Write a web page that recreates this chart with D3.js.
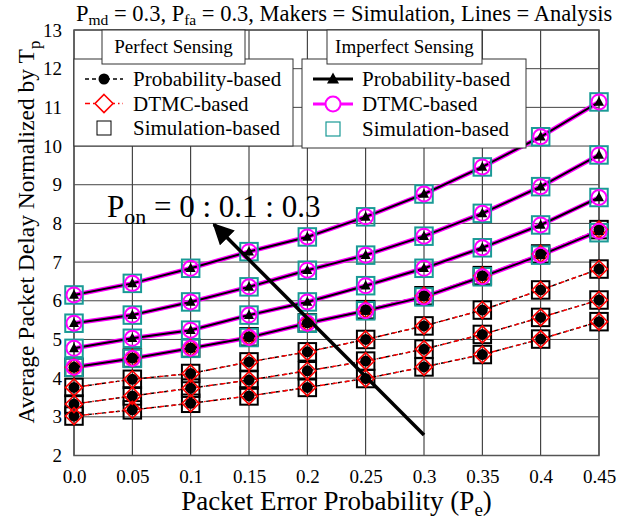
<!DOCTYPE html>
<html>
<head>
<meta charset="utf-8">
<script src="https://cdn.jsdelivr.net/npm/d3@7"></script>
<style>
  body { margin: 0; background: #fff; }
  text { font-family: "Liberation Serif", "DejaVu Serif", serif; fill: #000; }
</style>
</head>
<body>
<div id="chart"></div>
<script>
// packet error probability (x axis)
var pe = [0, 0.05, 0.1, 0.15, 0.2, 0.25, 0.3, 0.35, 0.4, 0.45];
var xTickLabels = ["0.0", "0.05", "0.1", "0.15", "0.2", "0.25", "0.3", "0.35", "0.4", "0.45"];
var yTicks = [2, 3, 4, 5, 6, 7, 8, 9, 10, 11, 12, 13];

// perfect sensing, Pon = 0, 0.1, 0.2, 0.3
var perfectProb = [
  [3.02, 3.18, 3.35, 3.54, 3.76, 3.99, 4.29, 4.61, 5.01, 5.46],
  [3.33, 3.54, 3.74, 3.95, 4.19, 4.44, 4.75, 5.13, 5.57, 6.02],
  [3.76, 3.97, 4.12, 4.42, 4.68, 5.00, 5.35, 5.76, 6.28, 6.82],
  [4.28, 4.52, 4.78, 5.07, 5.43, 5.77, 6.13, 6.65, 7.21, 7.84]
];
var perfectDtmc = [
  [3.02, 3.18, 3.35, 3.54, 3.76, 3.99, 4.29, 4.61, 5.01, 5.46],
  [3.33, 3.54, 3.74, 3.95, 4.19, 4.44, 4.75, 5.13, 5.57, 6.02],
  [3.76, 3.97, 4.12, 4.42, 4.68, 5.00, 5.35, 5.76, 6.28, 6.82],
  [4.28, 4.52, 4.78, 5.07, 5.43, 5.77, 6.13, 6.65, 7.21, 7.84]
];
var perfectSim = [
  [3.02, 3.18, 3.35, 3.54, 3.76, 3.99, 4.29, 4.61, 5.01, 5.46],
  [3.33, 3.54, 3.74, 3.95, 4.19, 4.44, 4.75, 5.13, 5.57, 6.02],
  [3.76, 3.97, 4.12, 4.42, 4.68, 5.00, 5.35, 5.76, 6.28, 6.82],
  [4.28, 4.52, 4.78, 5.07, 5.43, 5.77, 6.13, 6.65, 7.21, 7.84]
];

// imperfect sensing, Pon = 0, 0.1, 0.2, 0.3
var imperfectProb = [
  [4.28, 4.51, 4.77, 5.05, 5.42, 5.74, 6.10, 6.62, 7.18, 7.80],
  [4.77, 5.03, 5.24, 5.63, 5.97, 6.39, 6.84, 7.37, 7.96, 8.67],
  [5.42, 5.63, 5.97, 6.36, 6.79, 7.18, 7.67, 8.26, 8.95, 9.77],
  [6.15, 6.45, 6.84, 7.27, 7.65, 8.17, 8.76, 9.46, 10.24, 11.14]
];
var imperfectDtmc = [
  [4.28, 4.51, 4.77, 5.05, 5.42, 5.74, 6.10, 6.62, 7.18, 7.80],
  [4.77, 5.03, 5.24, 5.63, 5.97, 6.39, 6.84, 7.37, 7.96, 8.67],
  [5.42, 5.63, 5.97, 6.36, 6.79, 7.18, 7.67, 8.26, 8.95, 9.77],
  [6.15, 6.45, 6.84, 7.27, 7.65, 8.17, 8.76, 9.46, 10.24, 11.14]
];
var imperfectSim = [
  [4.28, 4.51, 4.77, 5.05, 5.42, 5.74, 6.10, 6.62, 7.18, 7.76],
  [4.77, 5.03, 5.24, 5.63, 5.97, 6.39, 6.84, 7.37, 7.96, 8.67],
  [5.42, 5.63, 5.97, 6.36, 6.79, 7.18, 7.67, 8.26, 8.95, 9.77],
  [6.15, 6.45, 6.84, 7.27, 7.65, 8.17, 8.76, 9.46, 10.24, 11.14]
];

// arrow annotation, in data units [pe, delay]
var arrowFrom = [0.3, 2.53];
var arrowTo = [0.12, 7.97];

var width = 629, height = 523;
var margin = {top: 30, right: 30, bottom: 67.5, left: 74};

var svg = d3.select("#chart").append("svg")
  .attr("width", width)
  .attr("height", height);

var x = d3.scaleLinear().domain([0, 0.45]).range([margin.left, width - margin.right]);
var y = d3.scaleLinear().domain([2, 13]).range([height - margin.bottom, margin.top]);

var defs = svg.append("defs");
defs.append("marker")
  .attr("id", "arrowhead")
  .attr("viewBox", "0 0 10 10")
  .attr("refX", 9).attr("refY", 5)
  .attr("markerWidth", 6).attr("markerHeight", 6)
  .attr("markerUnits", "strokeWidth")
  .attr("orient", "auto")
  .append("path").attr("d", "M0,0 L10,5 L0,10 z").attr("fill", "#000");

// grid
var grid = svg.append("g");
grid.selectAll(".vg").data(pe).enter().append("line")
  .attr("x1", d => x(d)).attr("x2", d => x(d))
  .attr("y1", y(2)).attr("y2", y(13))
  .attr("stroke", "#222").attr("stroke-width", 1);
grid.selectAll(".hg").data(yTicks).enter().append("line")
  .attr("x1", x(0)).attr("x2", x(0.45))
  .attr("y1", d => y(d)).attr("y2", d => y(d))
  .attr("stroke", "#444").attr("stroke-width", 1);
svg.append("rect")
  .attr("x", x(0)).attr("y", y(13))
  .attr("width", x(0.45) - x(0)).attr("height", y(2) - y(13))
  .attr("fill", "none").attr("stroke", "#555").attr("stroke-width", 1.5);

// tick labels via d3 axis (no domain / tick lines)
var xAxis = svg.append("g")
  .attr("transform", "translate(0," + y(2) + ")")
  .call(d3.axisBottom(x).tickValues(pe).tickFormat((d, i) => xTickLabels[i]).tickSize(0).tickPadding(14));
var yAxis = svg.append("g")
  .attr("transform", "translate(" + x(0) + ",0)")
  .call(d3.axisLeft(y).tickValues(yTicks).tickSize(0).tickPadding(12));
[xAxis, yAxis].forEach(function(a){
  a.select(".domain").remove();
  a.selectAll("text").attr("font-size", 19).attr("fill", "#000");
});

var line = d3.line().x((d, i) => x(pe[i])).y(d => y(d));

// perfect sensing lines (dashed black + red dash-dot)
var gPerf = svg.append("g");
perfectProb.forEach(function(s){
  gPerf.append("path").attr("d", line(s)).attr("fill", "none")
    .attr("stroke", "#000").attr("stroke-width", 1.4).attr("stroke-dasharray", "4,3");
});
perfectDtmc.forEach(function(s){
  gPerf.append("path").attr("d", line(s)).attr("fill", "none")
    .attr("stroke", "#f00").attr("stroke-width", 1.4).attr("stroke-dasharray", "5,3,1.5,3")
    .attr("stroke-dashoffset", 2);
});

// imperfect sensing lines (magenta under black)
var gImp = svg.append("g");
imperfectDtmc.forEach(function(s){
  gImp.append("path").attr("d", line(s)).attr("fill", "none")
    .attr("stroke", "#f0f").attr("stroke-width", 4.5);
});
imperfectProb.forEach(function(s){
  gImp.append("path").attr("d", line(s)).attr("fill", "none")
    .attr("stroke", "#000").attr("stroke-width", 2);
});

function pts(series){
  var out = [];
  series.forEach(function(s){ s.forEach(function(v, i){ out.push([pe[i], v]); }); });
  return out;
}

var sq = 17.5;
// simulation markers
svg.append("g").selectAll("rect").data(pts(perfectSim)).enter().append("rect")
  .attr("x", d => x(d[0]) - sq / 2).attr("y", d => y(d[1]) - sq / 2)
  .attr("width", sq).attr("height", sq)
  .attr("fill", "none").attr("stroke", "#000").attr("stroke-width", 2);
svg.append("g").selectAll("rect").data(pts(imperfectSim)).enter().append("rect")
  .attr("x", d => x(d[0]) - sq / 2).attr("y", d => y(d[1]) - sq / 2)
  .attr("width", sq).attr("height", sq)
  .attr("fill", "none").attr("stroke", "#1a9a96").attr("stroke-width", 2);

// perfect sensing analysis markers
svg.append("g").selectAll("circle").data(pts(perfectProb)).enter().append("circle")
  .attr("cx", d => x(d[0])).attr("cy", d => y(d[1])).attr("r", 5.5).attr("fill", "#000");
var diamond = "M0,-8.5 L8.5,0 L0,8.5 L-8.5,0 Z";
svg.append("g").selectAll("path").data(pts(perfectDtmc)).enter().append("path")
  .attr("d", diamond)
  .attr("transform", d => "translate(" + x(d[0]) + "," + y(d[1]) + ")")
  .attr("fill", "none").attr("stroke", "#f00").attr("stroke-width", 1.6);

// imperfect sensing analysis markers
svg.append("g").selectAll("circle").data(pts(imperfectDtmc)).enter().append("circle")
  .attr("cx", d => x(d[0])).attr("cy", d => y(d[1])).attr("r", 7.5)
  .attr("fill", "none").attr("stroke", "#f0f").attr("stroke-width", 2);
var tri = "M0,-5.5 L5,3.8 L-5,3.8 Z";
svg.append("g").selectAll("path").data(pts(imperfectProb)).enter().append("path")
  .attr("d", tri)
  .attr("transform", d => "translate(" + x(d[0]) + "," + y(d[1]) + ")")
  .attr("fill", "#000");

// arrow + annotation
svg.append("line")
  .attr("x1", x(arrowFrom[0])).attr("y1", y(arrowFrom[1]))
  .attr("x2", x(arrowTo[0])).attr("y2", y(arrowTo[1]))
  .attr("stroke", "#000").attr("stroke-width", 3.5)
  .attr("marker-end", "url(#arrowhead)");
var ann = svg.append("text").attr("x", 107).attr("y", 217).attr("font-size", 31);
ann.append("tspan").text("P");
ann.append("tspan").attr("font-size", 22).attr("dy", 7).text("on");
ann.append("tspan").attr("dy", -7).text(" = 0 : 0.1 : 0.3");

// legends
function legendBox(bx, by, bw, bh, tx, tw, title){
  var g = svg.append("g");
  g.append("rect").attr("x", bx).attr("y", by).attr("width", bw).attr("height", bh)
    .attr("fill", "#fff").attr("stroke", "#333").attr("stroke-width", 1);
  g.append("rect").attr("x", tx).attr("y", 30).attr("width", tw).attr("height", 34)
    .attr("fill", "#fff").attr("stroke", "#333").attr("stroke-width", 1);
  g.append("text").attr("x", tx + tw / 2).attr("y", 53).attr("text-anchor", "middle")
    .attr("font-size", 19).text(title);
  return g;
}

var lp = legendBox(74, 59, 219, 87, 102, 143, "Perfect Sensing");
var rowY = [79, 103.5, 128];
lp.append("line").attr("x1", 85).attr("x2", 123).attr("y1", rowY[0]).attr("y2", rowY[0])
  .attr("stroke", "#000").attr("stroke-width", 1.4).attr("stroke-dasharray", "4,3");
lp.append("circle").attr("cx", 104).attr("cy", rowY[0]).attr("r", 5.5).attr("fill", "#000");
lp.append("line").attr("x1", 85).attr("x2", 123).attr("y1", rowY[1]).attr("y2", rowY[1])
  .attr("stroke", "#f00").attr("stroke-width", 1.4).attr("stroke-dasharray", "5,3,1.5,3");
lp.append("path").attr("d", "M0,-9 L9,0 L0,9 L-9,0 Z").attr("transform", "translate(104," + rowY[1] + ")")
  .attr("fill", "#fff").attr("stroke", "#f00").attr("stroke-width", 1.6);
lp.append("rect").attr("x", 97).attr("y", rowY[2] - 7).attr("width", 14).attr("height", 14)
  .attr("fill", "none").attr("stroke", "#000").attr("stroke-width", 1);
["Probability-based", "DTMC-based", "Simulation-based"].forEach(function(t, i){
  lp.append("text").attr("x", 133).attr("y", rowY[i] + 7).attr("font-size", 21).text(t);
});

var li = legendBox(302, 59, 224, 89, 327, 155, "Imperfect Sensing");
var rowY2 = [79, 104, 129];
li.append("line").attr("x1", 313).attr("x2", 353).attr("y1", rowY2[0]).attr("y2", rowY2[0])
  .attr("stroke", "#000").attr("stroke-width", 3);
li.append("path").attr("d", "M0,-6.5 L6,4.5 L-6,4.5 Z").attr("transform", "translate(333," + rowY2[0] + ")").attr("fill", "#000");
li.append("line").attr("x1", 313).attr("x2", 353).attr("y1", rowY2[1]).attr("y2", rowY2[1])
  .attr("stroke", "#f0f").attr("stroke-width", 3);
li.append("circle").attr("cx", 333).attr("cy", rowY2[1]).attr("r", 7.5)
  .attr("fill", "#fff").attr("stroke", "#f0f").attr("stroke-width", 2);
li.append("rect").attr("x", 326).attr("y", rowY2[2] - 7).attr("width", 14).attr("height", 14)
  .attr("fill", "none").attr("stroke", "#1a9a96").attr("stroke-width", 1.2);
["Probability-based", "DTMC-based", "Simulation-based"].forEach(function(t, i){
  li.append("text").attr("x", 362).attr("y", rowY2[i] + 7).attr("font-size", 21).text(t);
});

// title
var title = svg.append("text").attr("x", 76).attr("y", 21).attr("font-size", 22.5);
title.append("tspan").text("P");
title.append("tspan").attr("font-size", 15.5).attr("dy", 4).text("md");
title.append("tspan").attr("dy", -4).text(" = 0.3, P");
title.append("tspan").attr("font-size", 15.5).attr("dy", 4).text("fa");
title.append("tspan").attr("dy", -4).text(" = 0.3, Makers = Simulation, Lines = Analysis");

// axis titles
var xl = svg.append("text").attr("x", (x(0) + x(0.45)) / 2).attr("y", 510)
  .attr("text-anchor", "middle").attr("font-size", 27);
xl.append("tspan").text("Packet Error Probability (P");
xl.append("tspan").attr("font-size", 19).attr("dy", 6).text("e");
xl.append("tspan").attr("dy", -6).text(")");

var yl = svg.append("text").attr("transform", "translate(34,232) rotate(-90)")
  .attr("text-anchor", "middle").attr("font-size", 23.5);
yl.append("tspan").text("Average Packet Delay Normalized by T");
yl.append("tspan").attr("font-size", 17).attr("dy", 6).text("p");
</script>
</body>
</html>
